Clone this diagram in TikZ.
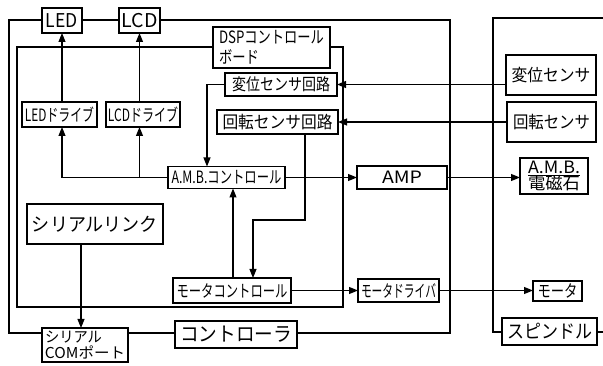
\documentclass[tikz,border=0pt]{standalone}
\usepackage{fontspec}
\setmainfont{Noto Sans CJK JP}
\usetikzlibrary{arrows.meta}
\newcommand{\hs}[2]{\resizebox{#1}{\height}{#2}}
\newcommand{\fs}[1]{\fontsize{#1}{#1}\selectfont}
\begin{document}
\begin{tikzpicture}[x=1pt,y=-1pt,
  box/.style={draw, fill=white, line width=1.2pt, inner sep=0pt, outer sep=0pt, align=center},
  arr/.style={-{Triangle[length=9pt,width=7pt]}, line width=1.1pt},
  frame/.style={line width=1.2pt}]
\useasboundingbox (0,0) rectangle (603,366);
% frames
\draw[frame] (9,20) rectangle (450,333);
\draw[frame] (17,47) rectangle (343,307);
\draw[frame] (603,18) -- (493,18) -- (493,332) -- (603,332);
% nodes
\node[box, minimum width=40pt, minimum height=25pt] (led) at (62,20.5) {\fs{19}\hs{32pt}{LED}};
\node[box, minimum width=41pt, minimum height=25pt] (lcd) at (139.5,20.5) {\fs{19}\hs{36pt}{LCD}};
\node[box, minimum width=117pt, minimum height=41pt, align=left, font={\fontsize{17}{20}\selectfont}] (dsp) at (271.5,47.5)
  {\hs{105pt}{DSPコントロール}\\\hs{40pt}{ボード}};
\node[box, minimum width=112pt, minimum height=23pt] (hsc) at (281,84.5) {\fs{16.5}\hs{98pt}{変位センサ回路}};
\node[box, minimum width=121pt, minimum height=24pt] (rsc) at (277.5,122) {\fs{17}\hs{110pt}{回転センサ回路}};
\node[box, minimum width=75pt, minimum height=25pt] (leddrv) at (59.5,114.5) {\fs{17}\hs{69pt}{LEDドライブ}};
\node[box, minimum width=74pt, minimum height=25pt] (lcddrv) at (143,114.5) {\fs{17}\hs{70pt}{LCDドライブ}};
\node[box, minimum width=117pt, minimum height=22pt] (amb) at (226.5,177.5) {\fs{17}\hs{110pt}{A.M.B.コントロール}};
\node[box, minimum width=136pt, minimum height=40pt] (sl) at (95,224) {\fs{19}\hs{126pt}{シリアルリンク}};
\node[box, minimum width=118pt, minimum height=25pt] (mc) at (232,290.5) {\fs{17}\hs{111pt}{モータコントロール}};
\node[box, minimum width=86pt, minimum height=34pt, align=left, font={\fontsize{15}{15.5}\selectfont}] (scom) at (85,345)
  {\hs{57pt}{シリアル}\\\hs{80pt}{COMポート}};
\node[box, minimum width=122pt, minimum height=27pt] (ctl) at (236,334.5) {\fs{20}\hs{112pt}{コントローラ}};
\node[box, minimum width=90pt, minimum height=23pt] (amp) at (402,177.5) {\fs{17}\hs{40pt}{AMP}};
\node[box, minimum width=68pt, minimum height=36pt, font={\fontsize{17}{16.5}\selectfont}] (ambm) at (554,176)
  {\hs{52pt}{\underline{A.M.B.}}\\\hs{52pt}{電磁石}};
\node[box, minimum width=81pt, minimum height=23pt] (md) at (398.5,290.5) {\fs{17}\hs{75pt}{モータドライバ}};
\node[box, minimum width=90pt, minimum height=40pt] (hs) at (551,75) {\fs{17}\hs{79pt}{変位センサ}};
\node[box, minimum width=89pt, minimum height=40pt] (rs) at (551.5,122) {\fs{17}\hs{77pt}{回転センサ}};
\node[box, minimum width=49pt, minimum height=20pt] (mot) at (557.5,291) {\fs{17}\hs{40pt}{モータ}};
\node[box, minimum width=95pt, minimum height=27pt] (sp) at (549.5,331.5) {\fs{19}\hs{85pt}{スピンドル}};
% connectors
\draw[arr] (leddrv.north -| led.south) -- (led.south);
\draw[arr] (lcddrv.north -| lcd.south) -- (lcd.south);
\draw[arr] (amb.west) -| (led.south |- leddrv.south);
\draw[arr] (amb.west -| lcd.south) -- (lcd.south |- lcddrv.south);
\draw[arr] (hsc.east -| hs.west) -- (hsc.east);
\draw[arr] (rsc.east -| rs.west) -- (rsc.east);
\draw[arr] (hsc.west) -| ([xshift=-19.5pt]amb.north);
\coordinate (bend) at (253,220);
\draw[arr] ([xshift=27.5pt]rsc.south) |- (bend) -- (bend |- mc.north);
\draw[arr] ([xshift=1pt]mc.north) -- ([xshift=1pt]mc.north |- amb.south);
\draw[arr] (amb.east) -- (amb.east -| amp.west);
\draw[arr] (amp.east) -- (amp.east -| ambm.west);
\draw[arr] (mc.east) -- (mc.east -| md.west);
\draw[arr] (md.east) -- (md.east -| mot.west);
\draw[arr] ([xshift=-14pt]sl.south) -- ([xshift=-14pt]sl.south |- scom.north);
\end{tikzpicture}
\end{document}
